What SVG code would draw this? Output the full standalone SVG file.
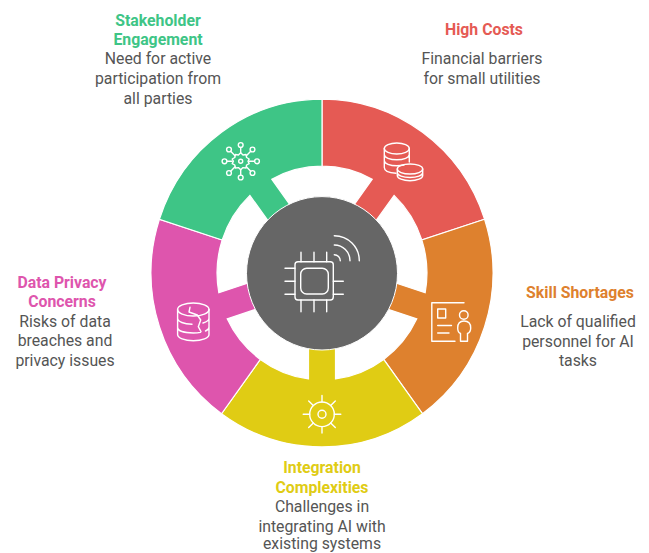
<svg xmlns="http://www.w3.org/2000/svg" width="649" height="553" viewBox="0 0 649 553">
<style>
text{font-family:Roboto,"Liberation Sans",sans-serif;font-size:15.8px;text-anchor:middle;fill:#555}
.t{font-weight:700}
.i{fill:none;stroke:#fff;stroke-width:1.4;stroke-linecap:round;stroke-linejoin:round}
.s{stroke:#fff;stroke-width:1.2}
</style>
<defs>
<path id="seg" d="M-100.5-138.3A171 171 0 0 1 100.5-138.3L61.7-84.9A105 105 0 0 0 13.5-104.1L13.5-70L-13.5-70L-13.5-104.1A105 105 0 0 0-61.7-84.9Z"/>
</defs>
<rect width="649" height="553" fill="#fff"/>
<g id="connectors"></g>
<g id="high-costs">
<use href="#seg" class="s" fill="#E55A54" transform="translate(322 273) scale(1 1.0175) rotate(36)"/>
<path class="i" d="M384.300 148.500V167.500C384.300 170.500 389 172.800 396 173.300M409.300 148.500V162M384.300 154.500C384.300 157.500 390 159.800 396.800 159.800C403.600 159.800 409.300 157.500 409.300 154.500M384.300 160.500C384.300 163.500 390 165.800 396.800 165.800C400 165.800 402 165.500 404 165"/>
<ellipse class="i" cx="396.800" cy="148.500" rx="12.500" ry="5.500"/>
<ellipse class="i" cx="410" cy="169" rx="12.700" ry="5"/>
<path class="i" d="M397.300 169V175.500C397.300 178.500 403 180.700 410 180.700C417 180.700 422.700 178.500 422.700 175.500V169M397.300 172.500C397.300 175.500 403 177.500 410 177.500C417 177.500 422.700 175.500 422.700 172.500"/>
<text class="t" x="484" y="35" style="fill:#E55A54">High Costs</text>
<text x="482" y="64">Financial barriers</text>
<text x="482" y="84">for small utilities</text>
</g>
<g id="skill-shortages">
<use href="#seg" class="s" fill="#DE812E" transform="translate(322 273) scale(1 1.0175) rotate(108)"/>
<path class="i" d="M464 302.800H431.800V341.200H455M437.700 309H445.700V318H437.700ZM437.700 325.500H451.500M437.700 333H449"/>
<circle class="i" cx="463.800" cy="315" r="4.300"/>
<path class="i" d="M460.500 341.200V333.500C458 332.500 457.700 330 457.700 328C457.700 323.500 460 321 464 321C468 321 470.700 323.500 470.700 328C470.700 330 470 332.500 467.500 333.500V341.200Z"/>
<text class="t" x="580" y="298" style="fill:#DE812E">Skill Shortages</text>
<text x="578" y="327">Lack of qualified</text>
<text x="578" y="347">personnel for AI</text>
<text x="578" y="366">tasks</text>
</g>
<g id="integration-complexities">
<use href="#seg" class="s" fill="#E0CC14" transform="translate(322 273) scale(1 1.0175) rotate(180)"/>
<circle class="i" cx="322" cy="414.300" r="12.300"/>
<circle class="i" cx="322" cy="414.300" r="4"/>
<path class="i" d="M322 402V395.500M322 426.600V433.100M309.700 414.300H303.200M334.300 414.300H340.800M313.300 405.600L308.700 401M330.700 405.600L335.300 401M313.300 423L308.700 427.600M330.700 423L335.300 427.600"/>
<text class="t" x="322" y="473" style="fill:#E0CC14">Integration</text>
<text class="t" x="322" y="493" style="fill:#E0CC14">Complexities</text>
<text x="322" y="512">Challenges in</text>
<text x="322" y="532">integrating AI with</text>
<text x="322" y="549.300">existing systems</text>
</g>
<g id="data-privacy">
<use href="#seg" class="s" fill="#DE55AD" transform="translate(322 273) scale(1 1.0175) rotate(252)"/>
<ellipse class="i" cx="193.300" cy="309.500" rx="15.700" ry="6.500"/>
<path class="i" d="M177.600 309.500V334.500C177.600 338 184.500 340.700 193.300 340.700C202.100 340.700 209 338 209 334.500V309.500M177.600 318.300C177.600 321.800 184 324 192 324.300M203 323C206.500 322 209 320.300 209 318.300M177.600 327.300C177.600 330.800 184 333 193.300 333C196 333 198.500 332.800 200.500 332.400M205.500 331C207.800 330 209 328.800 209 327.300M190 307.300L189 312L197.300 315L200.700 320L198.300 326.700L201 331.700"/>
<text class="t" x="62" y="288" style="fill:#DE55AD">Data Privacy</text>
<text class="t" x="62" y="307" style="fill:#DE55AD">Concerns</text>
<text x="65" y="327">Risks of data</text>
<text x="65" y="346">breaches and</text>
<text x="65" y="366">privacy issues</text>
</g>
<g id="stakeholder-engagement">
<use href="#seg" class="s" fill="#3EC586" transform="translate(322 273) scale(1 1.0175) rotate(324)"/>
<circle class="i" cx="240.700" cy="161.300" r="2"/>
<path class="i" d="M240.700 152.800L243 155L246 154.500L246.600 157.500L249.200 159L248 161.300L249.200 163.600L246.600 165L246 168L243 167.600L240.700 169.800L238.400 167.600L235.400 168L234.800 165L232.200 163.600L233.400 161.300L232.200 159L234.800 157.500L235.400 154.500L238.400 155Z"/>
<path class="i" d="M240.700 152.800V147.500M240.700 169.800V175M249.200 161.300H254.500M232.200 161.300H227M246.600 155.500L250.700 151.300M234.800 155.500L230.700 151.300M246.600 167L250.700 171.300M234.800 167L230.700 171.300"/>
<g class="i"><circle cx="240.700" cy="145" r="2.400"/><circle cx="240.700" cy="177.500" r="2.400"/><circle cx="257" cy="161.300" r="2.400"/><circle cx="224.500" cy="161.300" r="2.400"/><circle cx="252.500" cy="149.500" r="2.400"/><circle cx="229" cy="149.500" r="2.400"/><circle cx="252.500" cy="173" r="2.400"/><circle cx="229" cy="173" r="2.400"/></g>
<text class="t" x="158" y="26" style="fill:#3EC586">Stakeholder</text>
<text class="t" x="158" y="45" style="fill:#3EC586">Engagement</text>
<text x="158" y="64">Need for active</text>
<text x="158" y="84">participation from</text>
<text x="158" y="104">all parties</text>
</g>
<g id="center">
<ellipse cx="322" cy="273.300" rx="75.500" ry="76.700" fill="#666" stroke="#fff" stroke-width="1"/>
<rect class="i" x="295" y="261.700" width="38.300" height="38.300" rx="3"/>
<rect class="i" x="300.700" y="268.300" width="27.600" height="25.700" rx="6"/>
<path class="i" d="M301 252.300V261.700M314 252.300V261.700M326.700 252.300V261.700M301 300V311.700M314 300V311.700M326.700 300V311.700M285 268.300H295M285 281.300H295M285 294.300H295M333.300 281.300H343.300M333.300 294.300H343.300"/>
<path class="i" d="M334.300 235.700A25 25 0 0 1 359.300 260.700M334.300 245A15.700 15.700 0 0 1 350 260.700M334.300 254.700A6 6 0 0 1 340.300 260.700"/>
</g>
</svg>
